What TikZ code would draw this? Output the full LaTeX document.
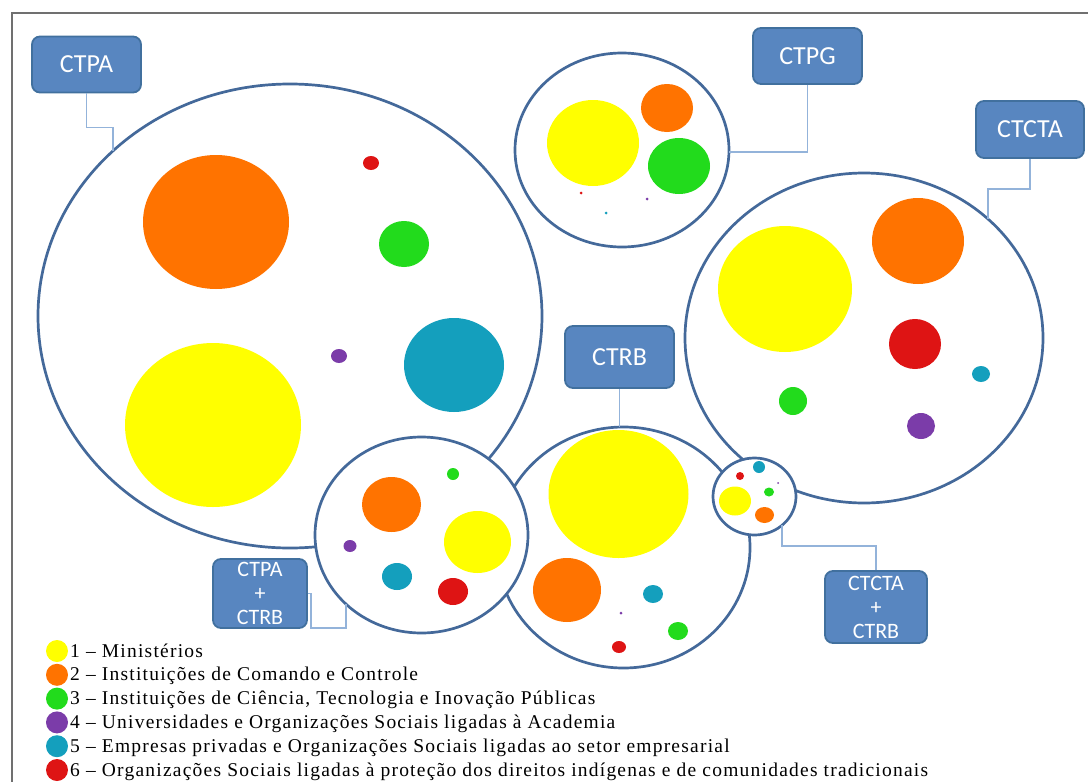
\documentclass[tikz,border=0pt]{standalone}
\usepackage{fontspec}
\setmainfont{Liberation Serif}
\newfontfamily\tagfont{Carlito}
\newfontfamily\legendfont[LetterSpace=6.3]{Liberation Serif}
\definecolor{ringblue}{HTML}{44699A}
\definecolor{tagfill}{HTML}{5886C0}
\definecolor{tagedge}{HTML}{41709E}
\definecolor{linkblue}{HTML}{93B3DA}
\definecolor{frame}{HTML}{707070}
\definecolor{cYel}{HTML}{FFFF00}
\definecolor{cOra}{HTML}{FF7300}
\definecolor{cGre}{HTML}{22DB1C}
\definecolor{cPur}{HTML}{7B3CA9}
\definecolor{cTea}{HTML}{149FBD}
\definecolor{cRed}{HTML}{DE1414}
\newcommand\spot[4]{\fill[#1] (#2) ellipse [x radius=#3, y radius=#4];}

\begin{document}
\begin{tikzpicture}[x=1pt,y=-1pt,
  ring/.style={draw=ringblue,line width=2.7pt,fill=white},
  tag/.style={rectangle,rounded corners=8pt,draw=tagedge,line width=1.8pt,fill=tagfill,
    text=white,inner sep=0pt,font=\tagfont\fontsize{26}{26}\selectfont},
  smalltag/.style={tag,align=center,font=\tagfont\fontsize{22}{24}\selectfont},
  link/.style={draw=linkblue,line width=1.4pt}]
\useasboundingbox (0,0) rectangle (1088,782);
\draw[frame,line width=1.5pt] (12,782) -- (12,13) -- (1088,13);

% sets
\draw[ring] (290,316) ellipse [x radius=252, y radius=232];
\draw[ring] (622,150) ellipse [x radius=107, y radius=97];
\draw[ring] (864,338) ellipse [x radius=179, y radius=165];
\draw[ring] (623.5,547.5) ellipse [x radius=126.5, y radius=120.5];
% intersections
\draw[ring] (421.5,535) ellipse [x radius=106.5, y radius=98];
\draw[ring] (754.5,496.5) ellipse [x radius=41.5, y radius=38.5];

% labels
\node[tag,minimum width=109pt,minimum height=56pt] (ctpabox) at (86.5,64.5) {CTPA};
\node[tag,minimum width=109pt,minimum height=56pt] (ctpgbox) at (807.5,56) {CTPG};
\node[tag,minimum width=108pt,minimum height=57pt] (ctctabox) at (1030,129.5) {CTCTA};
\node[tag,minimum width=109pt,minimum height=62pt] (ctrbbox) at (619.5,357) {CTRB};
\node[smalltag,minimum width=94pt,minimum height=69pt] (ctpactrb) at (260,593.5) {CTPA\\+\\CTRB};
\node[smalltag,minimum width=102pt,minimum height=72pt] (ctctactrb) at (876,607) {CTCTA\\+\\CTRB};

\coordinate (ctpatip) at (113,151);
\coordinate (ctpgtip) at (729,152);
\coordinate (ctctatip) at (988,219);
\coordinate (ctrbtip) at (619.5,427);
\coordinate (ctpactrbtip) at (346,604);
\coordinate (ctctactrbtip) at (782,525);
\draw[link] (ctpabox.south) -- ++(0,34) -| (ctpatip);
\draw[link] (ctpgbox.south) |- (ctpgtip);
\draw[link] (ctctabox.south) -- ++(0,30) -| (ctctatip);
\draw[link] (ctrbbox.south) -- (ctrbtip);
\draw[link] (ctpactrb.east) -- ++(3,0) -- ++(0,34.5) -| (ctpactrbtip);
\draw[link] (ctctactrb.north) -- ++(0,-24) -| (ctctactrbtip);

% CTPA
\spot{cOra}{216,222}{73}{67}
\spot{cRed}{371,163}{8}{7}
\spot{cGre}{404,244}{25}{23}
\spot{cPur}{339,356}{8}{7}
\spot{cTea}{454,365}{50}{47}
\spot{cYel}{213,425}{88}{82}
% CTPG
\spot{cYel}{593,143}{46}{43}
\spot{cOra}{667,108}{26}{24}
\spot{cGre}{679,166}{31}{28}
\spot{cRed}{581,193}{1.5}{1.5}
\spot{cTea}{606,213}{1.5}{1.5}
\spot{cPur}{647,199}{1.5}{1.5}
% CTCTA
\spot{cYel}{785,289}{67}{63}
\spot{cOra}{918,241}{46}{43}
\spot{cRed}{915,344}{26}{25}
\spot{cTea}{981,374}{9}{8}
\spot{cGre}{793,401}{14}{14}
\spot{cPur}{921,426}{14}{13}
% CTRB
\spot{cYel}{618.5,494}{70}{64}
\spot{cOra}{567,590}{34}{32}
\spot{cTea}{653,594}{10}{9}
\spot{cPur}{621,613}{1.5}{1.5}
\spot{cGre}{678,631}{10}{9}
\spot{cRed}{619,647}{7}{6}
% CTPA + CTRB
\spot{cGre}{453,474}{6}{6}
\spot{cOra}{391.5,504.5}{29.5}{27.5}
\spot{cYel}{477.5,542}{33.5}{31}
\spot{cPur}{350,546}{6.5}{6}
\spot{cTea}{397,576.5}{15}{13.5}
\spot{cRed}{453,591.5}{15}{13.5}
% CTCTA + CTRB
\spot{cRed}{740,476}{4}{4}
\spot{cTea}{759,467}{6}{6}
\spot{cPur}{778,483}{1}{1}
\spot{cGre}{769,492}{5}{4.5}
\spot{cYel}{735,501}{16}{14.5}
\spot{cOra}{764.5,515}{9.5}{8}

% legend
\foreach \c/\t [count=\i] in {cYel/{1 – Ministérios},
  cOra/{2 – Instituições de Comando e Controle},
  cGre/{3 – Instituições de Ciência, Tecnologia e Inovação Públicas},
  cPur/{4 – Universidades e Organizações Sociais ligadas à Academia},
  cTea/{5 – Empresas privadas e Organizações Sociais ligadas ao setor empresarial},
  cRed/{6 – Organizações Sociais ligadas à proteção dos direitos indígenas e de comunidades tradicionais}} {
  \node[circle,fill=\c,minimum size=22pt,inner sep=0pt] (dot\i) at (57,651+23.8*\i-23.8) {};
  \node[anchor=base west,inner sep=0pt,font=\legendfont\fontsize{19.5}{19.5}\selectfont] (item\i) at (70,657+23.8*\i-23.8) {\t};
}
\end{tikzpicture}
\end{document}
